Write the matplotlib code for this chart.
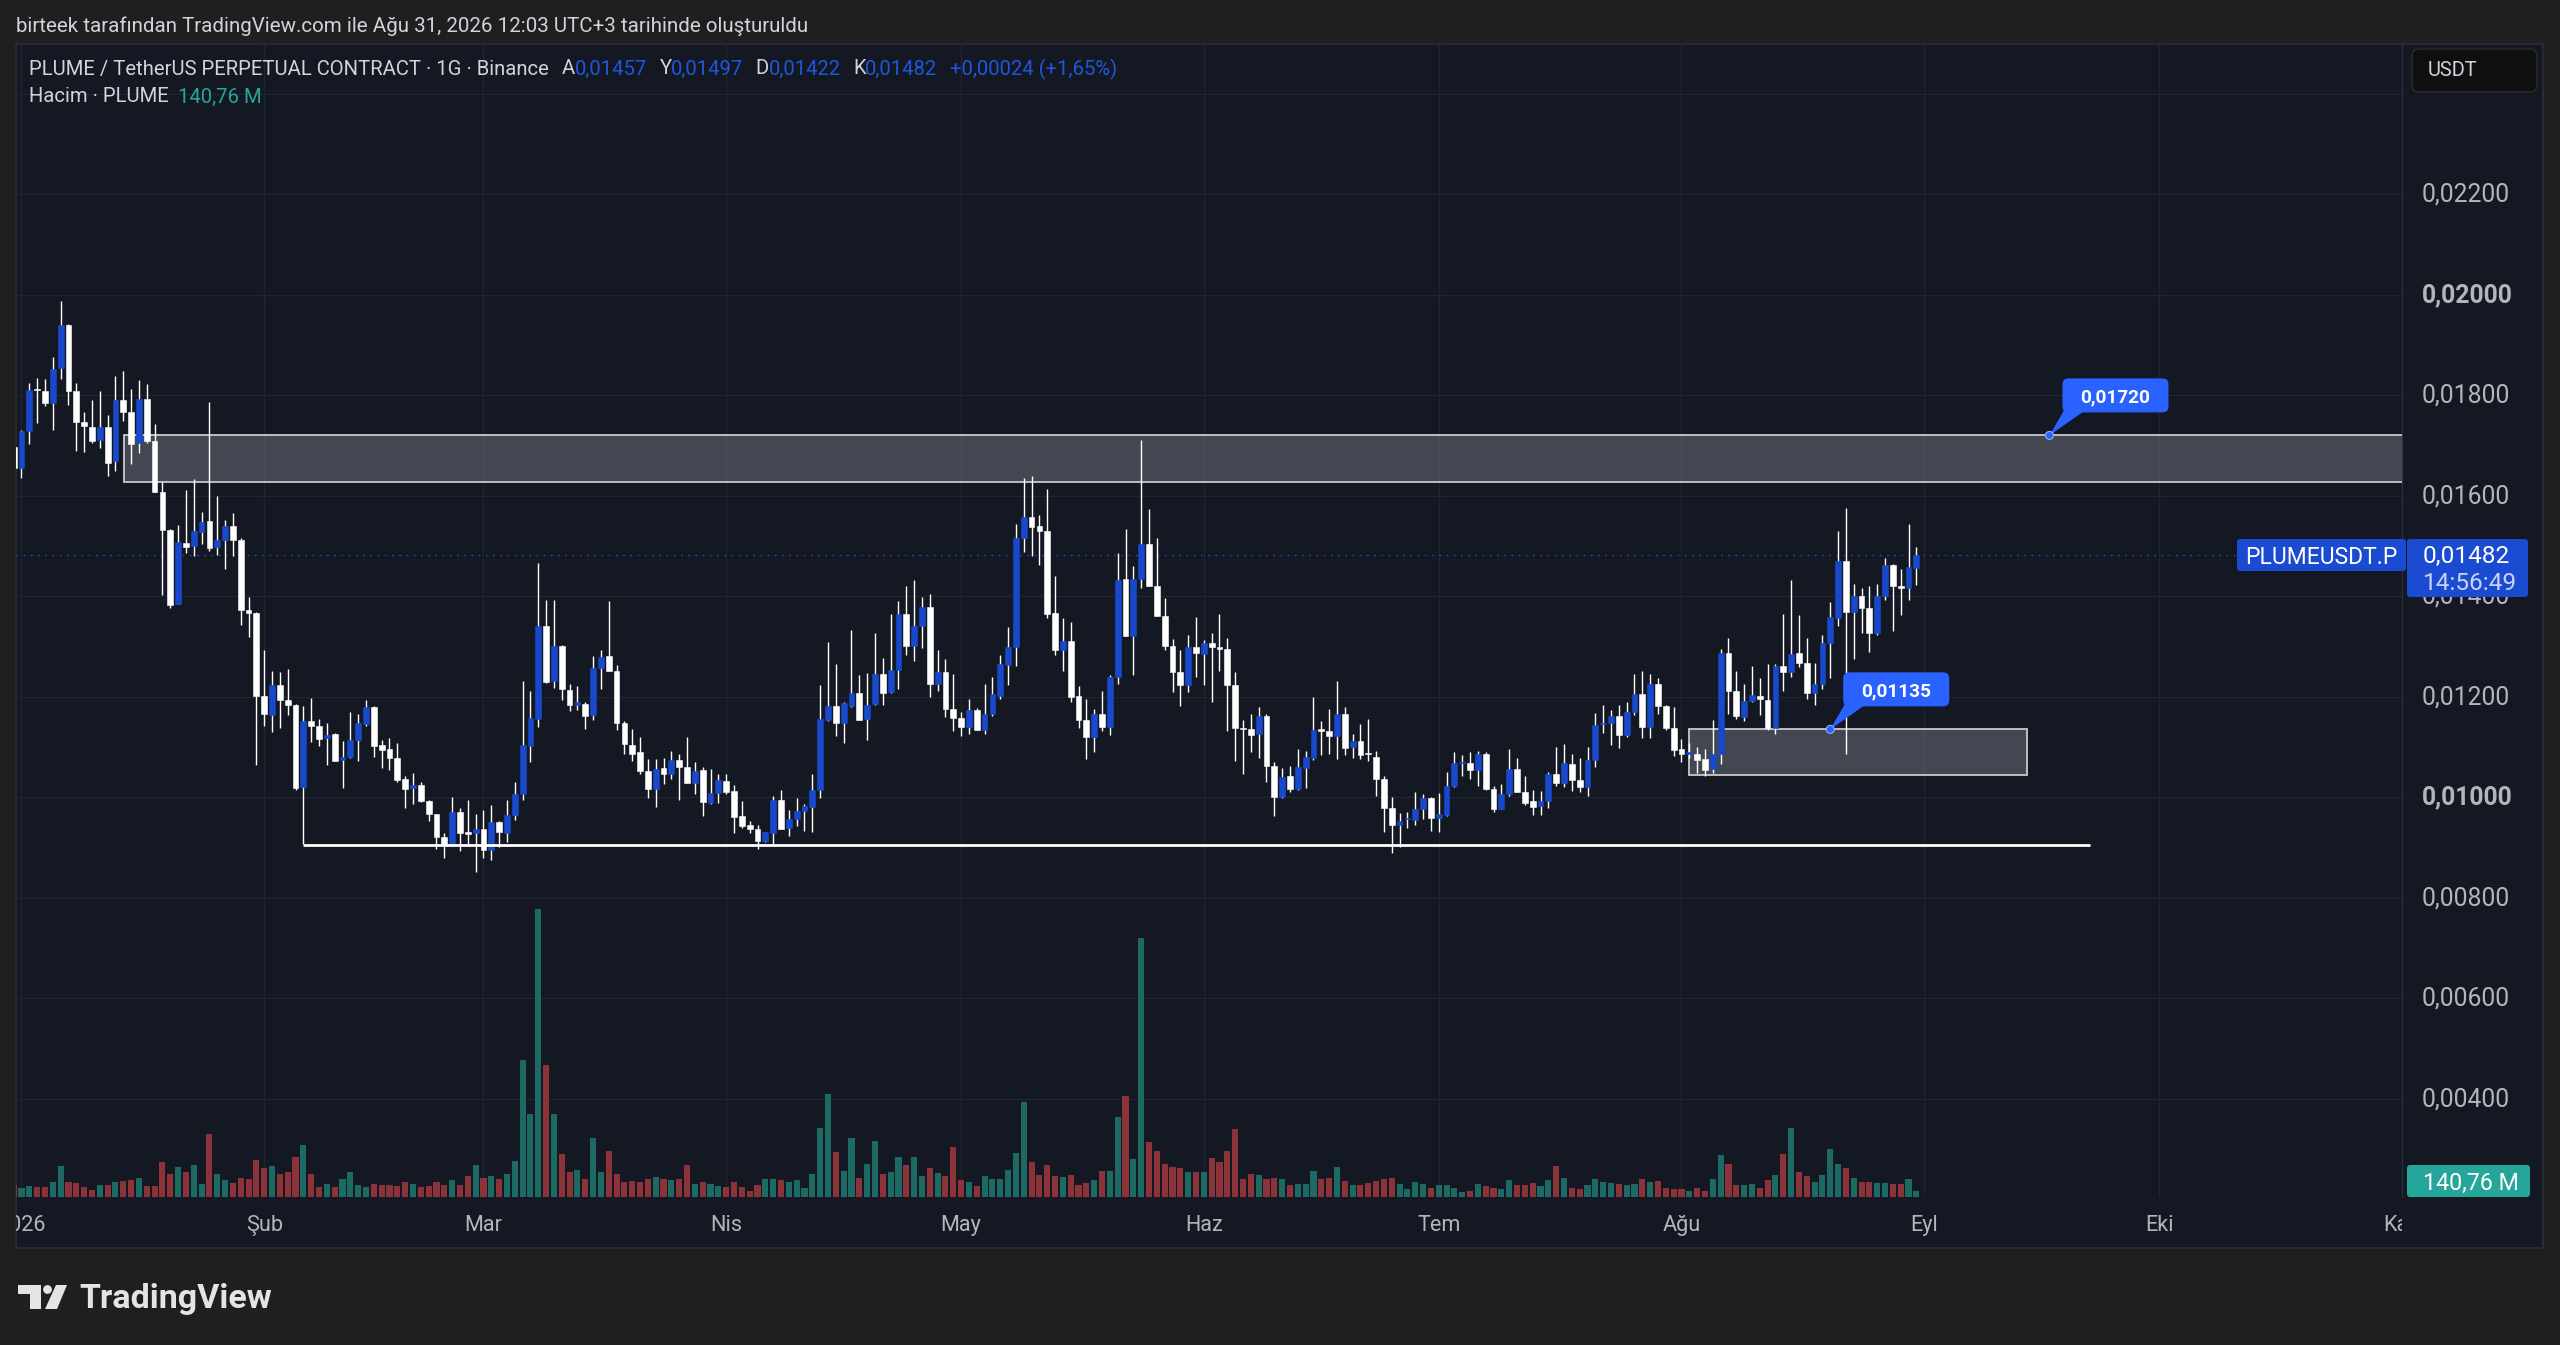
import numpy as np
import pandas as pd
import matplotlib
matplotlib.use("Agg")
import matplotlib.pyplot as plt
from matplotlib.patches import Rectangle, FancyBboxPatch, Polygon, Circle
from matplotlib.lines import Line2D
from matplotlib.transforms import IdentityTransform, Bbox

# ---------------------------------------------------------------- data
dates = pd.date_range("2025-12-31", "2026-08-31", freq="D")

opens = [0.01697,
 0.01656, 0.01728, 0.01811, 0.01809, 0.01785, 0.01854, 0.01939, 0.01809, 0.01747, 0.01736,
 0.01711, 0.01736, 0.01669, 0.01791, 0.01767, 0.01704, 0.01792, 0.01708, 0.01608, 0.01531,
 0.01384, 0.01506, 0.01499, 0.01527, 0.01550, 0.01497, 0.01511, 0.01540, 0.01512, 0.01372,
 0.01366, 0.01202, 0.01163, 0.01224, 0.01194, 0.01183, 0.01020, 0.01152, 0.01142, 0.01118,
 0.01125, 0.01074, 0.01081, 0.01113, 0.01146, 0.01179, 0.01104, 0.01096, 0.01079, 0.01036,
 0.01019, 0.01024, 0.00993, 0.00966, 0.00920, 0.00907, 0.00971, 0.00931, 0.00929, 0.00936,
 0.00894, 0.00950, 0.00929, 0.00965, 0.01007, 0.01102, 0.01156, 0.01341, 0.01232, 0.01300,
 0.01214, 0.01183, 0.01186, 0.01163, 0.01258, 0.01281, 0.01252, 0.01147, 0.01104, 0.01089,
 0.01053, 0.01016, 0.01058, 0.01047, 0.01075, 0.01061, 0.01028, 0.01055, 0.00989, 0.01009,
 0.01033, 0.01013, 0.00962, 0.00944, 0.00936, 0.00912, 0.00929, 0.00995, 0.00938, 0.00956,
 0.00973, 0.00981, 0.01014, 0.01154, 0.01181, 0.01147, 0.01181, 0.01207, 0.01155, 0.01186,
 0.01245, 0.01209, 0.01253, 0.01365, 0.01301, 0.01341, 0.01379, 0.01226, 0.01250, 0.01176,
 0.01158, 0.01139, 0.01173, 0.01133, 0.01165, 0.01201, 0.01264, 0.01298, 0.01516, 0.01557,
 0.01539, 0.01530, 0.01366, 0.01293, 0.01310, 0.01202, 0.01154, 0.01119, 0.01165, 0.01139,
 0.01239, 0.01434, 0.01321, 0.01434, 0.01504, 0.01421, 0.01361, 0.01301, 0.01250, 0.01224,
 0.01298, 0.01285, 0.01306, 0.01299, 0.01294, 0.01224, 0.01138, 0.01135, 0.01125, 0.01162,
 0.01063, 0.01001, 0.01042, 0.01016, 0.01058, 0.01078, 0.01135, 0.01131, 0.01121, 0.01166,
 0.01099, 0.01111, 0.01086, 0.01081, 0.01037, 0.00979, 0.00944, 0.00957, 0.00955, 0.00976,
 0.00998, 0.00958, 0.00965, 0.01022, 0.01068, 0.01068, 0.01054, 0.01085, 0.01016, 0.00977,
 0.01006, 0.01057, 0.01011, 0.00992, 0.00983, 0.00993, 0.01046, 0.01029, 0.01067, 0.01034,
 0.01021, 0.01075, 0.01145, 0.01147, 0.01161, 0.01124, 0.01169, 0.01205, 0.01140, 0.01225,
 0.01181, 0.01137, 0.01095, 0.01086, 0.01086, 0.01077, 0.01056, 0.01086, 0.01287, 0.01211,
 0.01159, 0.01191, 0.01202, 0.01194, 0.01138, 0.01262, 0.01250, 0.01286, 0.01267, 0.01208,
 0.01225, 0.01306, 0.01357, 0.01471, 0.01369, 0.01400, 0.01376, 0.01326, 0.01400, 0.01463,
 0.01421, 0.01417, 0.01457]

highs = [0.01705,
 0.01731, 0.01824, 0.01834, 0.01833, 0.01876, 0.01987, 0.01942, 0.01824, 0.01766, 0.01790,
 0.01809, 0.01761, 0.01839, 0.01848, 0.01812, 0.01830, 0.01823, 0.01743, 0.01627, 0.01533,
 0.01541, 0.01611, 0.01634, 0.01568, 0.01786, 0.01600, 0.01552, 0.01565, 0.01516, 0.01399,
 0.01369, 0.01292, 0.01251, 0.01249, 0.01256, 0.01185, 0.01181, 0.01197, 0.01156, 0.01147,
 0.01128, 0.01112, 0.01169, 0.01165, 0.01193, 0.01181, 0.01113, 0.01117, 0.01107, 0.01042,
 0.01049, 0.01030, 0.00995, 0.00967, 0.00929, 0.01000, 0.00979, 0.00995, 0.00966, 0.00974,
 0.00984, 0.00953, 0.00994, 0.01031, 0.01232, 0.01211, 0.01466, 0.01393, 0.01392, 0.01302,
 0.01226, 0.01222, 0.01189, 0.01281, 0.01293, 0.01391, 0.01263, 0.01152, 0.01135, 0.01120,
 0.01077, 0.01077, 0.01078, 0.01091, 0.01086, 0.01120, 0.01071, 0.01060, 0.01057, 0.01046,
 0.01046, 0.01024, 0.00993, 0.00952, 0.00944, 0.00931, 0.01002, 0.01014, 0.00974, 0.00998,
 0.00987, 0.01046, 0.01224, 0.01309, 0.01266, 0.01189, 0.01333, 0.01243, 0.01247, 0.01327,
 0.01278, 0.01365, 0.01390, 0.01420, 0.01433, 0.01399, 0.01404, 0.01293, 0.01275, 0.01245,
 0.01169, 0.01196, 0.01177, 0.01225, 0.01239, 0.01282, 0.01338, 0.01544, 0.01635, 0.01639,
 0.01562, 0.01614, 0.01440, 0.01357, 0.01349, 0.01222, 0.01196, 0.01175, 0.01212, 0.01243,
 0.01485, 0.01533, 0.01461, 0.01711, 0.01574, 0.01516, 0.01396, 0.01315, 0.01293, 0.01322,
 0.01359, 0.01313, 0.01326, 0.01364, 0.01317, 0.01250, 0.01154, 0.01165, 0.01179, 0.01166,
 0.01070, 0.01058, 0.01062, 0.01095, 0.01092, 0.01200, 0.01152, 0.01175, 0.01231, 0.01180,
 0.01125, 0.01146, 0.01156, 0.01091, 0.01043, 0.01000, 0.00968, 0.00970, 0.01010, 0.01007,
 0.01000, 0.01008, 0.01051, 0.01090, 0.01083, 0.01090, 0.01092, 0.01089, 0.01023, 0.01027,
 0.01095, 0.01079, 0.01043, 0.01015, 0.01013, 0.01050, 0.01099, 0.01106, 0.01086, 0.01078,
 0.01099, 0.01167, 0.01183, 0.01173, 0.01184, 0.01189, 0.01245, 0.01251, 0.01246, 0.01238,
 0.01183, 0.01179, 0.01116, 0.01107, 0.01099, 0.01095, 0.01154, 0.01294, 0.01317, 0.01252,
 0.01225, 0.01261, 0.01238, 0.01265, 0.01265, 0.01365, 0.01433, 0.01362, 0.01316, 0.01267,
 0.01323, 0.01389, 0.01529, 0.01576, 0.01424, 0.01417, 0.01420, 0.01425, 0.01476, 0.01465,
 0.01454, 0.01544, 0.01497]

lows = [0.01650,
 0.01636, 0.01703, 0.01745, 0.01778, 0.01730, 0.01833, 0.01781, 0.01689, 0.01687, 0.01704,
 0.01694, 0.01639, 0.01649, 0.01749, 0.01663, 0.01685, 0.01704, 0.01608, 0.01403, 0.01376,
 0.01384, 0.01485, 0.01480, 0.01504, 0.01490, 0.01482, 0.01455, 0.01481, 0.01343, 0.01319,
 0.01065, 0.01141, 0.01130, 0.01137, 0.01163, 0.01014, 0.00907, 0.01109, 0.01102, 0.01065,
 0.01072, 0.01018, 0.01078, 0.01072, 0.01142, 0.01081, 0.01058, 0.01054, 0.01031, 0.00979,
 0.00987, 0.00991, 0.00953, 0.00896, 0.00879, 0.00907, 0.00892, 0.00905, 0.00852, 0.00880,
 0.00876, 0.00900, 0.00910, 0.00955, 0.00994, 0.01070, 0.01139, 0.01228, 0.01217, 0.01193,
 0.01172, 0.01174, 0.01135, 0.01153, 0.01215, 0.01251, 0.01133, 0.01085, 0.01072, 0.01046,
 0.00998, 0.00981, 0.01026, 0.01037, 0.00994, 0.01028, 0.01006, 0.00963, 0.00986, 0.00989,
 0.01006, 0.00928, 0.00939, 0.00929, 0.00897, 0.00910, 0.00907, 0.00936, 0.00923, 0.00943,
 0.00932, 0.00930, 0.00998, 0.01152, 0.01121, 0.01107, 0.01179, 0.01153, 0.01113, 0.01184,
 0.01184, 0.01208, 0.01216, 0.01282, 0.01272, 0.01296, 0.01200, 0.01212, 0.01159, 0.01132,
 0.01121, 0.01126, 0.01133, 0.01126, 0.01161, 0.01196, 0.01224, 0.01261, 0.01488, 0.01481,
 0.01462, 0.01357, 0.01282, 0.01251, 0.01189, 0.01138, 0.01077, 0.01089, 0.01131, 0.01124,
 0.01226, 0.01321, 0.01243, 0.01417, 0.01421, 0.01361, 0.01293, 0.01209, 0.01182, 0.01209,
 0.01240, 0.01223, 0.01189, 0.01251, 0.01131, 0.01072, 0.01046, 0.01089, 0.01078, 0.01031,
 0.00962, 0.00999, 0.01011, 0.01014, 0.01019, 0.01075, 0.01083, 0.01086, 0.01077, 0.01083,
 0.01078, 0.01077, 0.01072, 0.01002, 0.00931, 0.00889, 0.00901, 0.00938, 0.00944, 0.00957,
 0.00933, 0.00930, 0.00963, 0.01020, 0.01042, 0.01037, 0.01023, 0.01014, 0.00971, 0.00976,
 0.01002, 0.01011, 0.00985, 0.00964, 0.00964, 0.00978, 0.01022, 0.01021, 0.01012, 0.01011,
 0.01002, 0.01061, 0.01128, 0.01104, 0.01097, 0.01119, 0.01163, 0.01117, 0.01117, 0.01166,
 0.01134, 0.01082, 0.01070, 0.01078, 0.01049, 0.01042, 0.01049, 0.01067, 0.01166, 0.01156,
 0.01152, 0.01189, 0.01163, 0.01133, 0.01125, 0.01212, 0.01240, 0.01259, 0.01195, 0.01184,
 0.01215, 0.01238, 0.01340, 0.01086, 0.01275, 0.01326, 0.01288, 0.01322, 0.01393, 0.01331,
 0.01363, 0.01393, 0.01422]

closes = [0.01656,
 0.01729, 0.01811, 0.01810, 0.01785, 0.01853, 0.01939, 0.01809, 0.01746, 0.01738, 0.01709,
 0.01736, 0.01666, 0.01791, 0.01767, 0.01703, 0.01792, 0.01708, 0.01608, 0.01531, 0.01382,
 0.01508, 0.01497, 0.01530, 0.01548, 0.01495, 0.01512, 0.01540, 0.01511, 0.01372, 0.01366,
 0.01202, 0.01165, 0.01224, 0.01194, 0.01183, 0.01019, 0.01151, 0.01142, 0.01116, 0.01123,
 0.01072, 0.01081, 0.01113, 0.01147, 0.01180, 0.01102, 0.01093, 0.01078, 0.01035, 0.01016,
 0.01024, 0.00993, 0.00966, 0.00920, 0.00907, 0.00970, 0.00929, 0.00927, 0.00936, 0.00894,
 0.00950, 0.00930, 0.00965, 0.01007, 0.01103, 0.01158, 0.01341, 0.01230, 0.01300, 0.01215,
 0.01183, 0.01189, 0.01162, 0.01258, 0.01279, 0.01252, 0.01148, 0.01105, 0.01086, 0.01053,
 0.01016, 0.01056, 0.01047, 0.01075, 0.01060, 0.01028, 0.01053, 0.00991, 0.01009, 0.01035,
 0.01011, 0.00960, 0.00943, 0.00936, 0.00912, 0.00931, 0.00995, 0.00937, 0.00956, 0.00973,
 0.00983, 0.01014, 0.01156, 0.01181, 0.01147, 0.01187, 0.01207, 0.01154, 0.01184, 0.01245,
 0.01208, 0.01253, 0.01365, 0.01301, 0.01341, 0.01379, 0.01226, 0.01250, 0.01176, 0.01158,
 0.01139, 0.01173, 0.01134, 0.01165, 0.01205, 0.01266, 0.01298, 0.01516, 0.01557, 0.01538,
 0.01530, 0.01364, 0.01292, 0.01310, 0.01200, 0.01153, 0.01119, 0.01165, 0.01139, 0.01239,
 0.01433, 0.01321, 0.01434, 0.01504, 0.01421, 0.01361, 0.01301, 0.01250, 0.01224, 0.01298,
 0.01286, 0.01306, 0.01299, 0.01294, 0.01223, 0.01137, 0.01135, 0.01124, 0.01162, 0.01063,
 0.01001, 0.01041, 0.01016, 0.01061, 0.01081, 0.01133, 0.01132, 0.01121, 0.01166, 0.01098,
 0.01111, 0.01084, 0.01085, 0.01036, 0.00978, 0.00944, 0.00953, 0.00959, 0.00976, 0.00998,
 0.00958, 0.00966, 0.01022, 0.01068, 0.01071, 0.01054, 0.01085, 0.01016, 0.00977, 0.01007,
 0.01057, 0.01011, 0.00989, 0.00981, 0.00993, 0.01046, 0.01029, 0.01068, 0.01034, 0.01021,
 0.01075, 0.01144, 0.01147, 0.01161, 0.01124, 0.01169, 0.01205, 0.01140, 0.01225, 0.01181,
 0.01137, 0.01093, 0.01085, 0.01090, 0.01075, 0.01055, 0.01086, 0.01287, 0.01212, 0.01161,
 0.01191, 0.01203, 0.01195, 0.01138, 0.01262, 0.01250, 0.01284, 0.01267, 0.01208, 0.01225,
 0.01306, 0.01358, 0.01471, 0.01369, 0.01400, 0.01376, 0.01326, 0.01400, 0.01463, 0.01420,
 0.01417, 0.01458, 0.01482]

# volume in millions of PLUME
volume_m = [280,
 210, 266, 238, 238, 350, 742, 350, 336, 238, 168,
 294, 294, 350, 378, 406, 448, 266, 266, 826, 546,
 714, 602, 770, 322, 1498, 546, 406, 336, 448, 420,
 882, 700, 742, 546, 588, 966, 1232, 546, 238, 308,
 238, 434, 588, 280, 238, 308, 280, 294, 266, 350,
 308, 238, 266, 350, 280, 406, 294, 490, 756, 448,
 490, 420, 560, 854, 3262, 1974, 6860, 3150, 1974, 1022,
 588, 644, 420, 1400, 588, 1092, 546, 350, 378, 350,
 420, 476, 420, 406, 434, 770, 322, 350, 308, 266,
 238, 350, 238, 154, 280, 420, 420, 406, 350, 406,
 224, 546, 1652, 2450, 1078, 630, 1400, 448, 784, 1330,
 560, 588, 966, 756, 966, 490, 686, 574, 490, 1204,
 406, 350, 266, 490, 420, 420, 644, 1050, 2268, 826,
 518, 756, 490, 476, 518, 294, 336, 406, 616, 616,
 1918, 2408, 910, 6188, 1316, 1092, 784, 714, 700, 602,
 602, 588, 924, 826, 1092, 1624, 434, 560, 518, 420,
 448, 420, 280, 322, 308, 630, 420, 448, 714, 378,
 294, 280, 336, 378, 420, 448, 308, 196, 364, 308,
 224, 280, 280, 224, 126, 154, 308, 252, 210, 196,
 406, 294, 294, 336, 252, 406, 742, 448, 210, 196,
 280, 434, 350, 336, 322, 280, 308, 420, 350, 392,
 224, 196, 196, 154, 210, 154, 420, 994, 798, 280,
 294, 322, 224, 406, 532, 1036, 1638, 588, 490, 350,
 532, 1134, 798, 700, 462, 350, 350, 336, 336, 322,
 308, 420, 140.76]

price_ticks = [0.004, 0.006, 0.008, 0.010, 0.012, 0.014, 0.016, 0.018, 0.020, 0.022]
bold_ticks = [0.010, 0.020]
grid_prices = [0.004, 0.006, 0.008, 0.010, 0.012, 0.014, 0.016, 0.018, 0.020, 0.022, 0.024]
month_labels = ["2026", "Şub", "Mar", "Nis", "May", "Haz", "Tem", "Ağu", "Eyl", "Eki", "Kas"]
month_starts = pd.date_range("2026-01-01", "2026-11-01", freq="MS")

# drawings (price levels, positions in days since 2026-01-01)
zone_hi_lo = (0.01720, 0.01628)
zone_hi_start = 13.1
zone_lo_lo, zone_lo_hi = 0.01045, 0.01135
zone_lo_x = (213.0, 256.1)
support_level = 0.00905
support_x = (36.0, 264.2)
note_hi = (259.0, 0.01720)
note_lo = (231.0, 0.01135)

# ---------------------------------------------------------------- style
W, H = 2560, 1345
BG_OUT = "#1f1f1f"
BG = "#141822"
GRID = "#212531"
BORDER = "#2a2e39"
TXT = "#b2b5be"
LIGHT = "#d1d4dc"
BLUE_C = "#1848cc"
BLUE_L = "#2155dc"
BLUE_TAG = "#1b4bd1"
BUBBLE = "#2962ff"
TEAL_V = "#1d6a64"
RED_V = "#8b3338"
TEAL_T = "#26a69a"

plt.rcParams["font.family"] = ["Roboto", "DejaVu Sans"]
fig = plt.figure(figsize=(W / 100, H / 100), dpi=100, facecolor=BG_OUT)
ID = IdentityTransform()

PL, PT, PR, PB = 16, 44, 2543, 1248   # panel
XR, YB = 2402, 1197                   # plot right / bottom
XMIN, XMAX = -0.70, 304.02
YMIN, YMAX = 0.002044, 0.024989
VMAX = 27510


def frect(x0, y0, x1, y1):
    return [x0 / W, 1 - y1 / H, (x1 - x0) / W, (y1 - y0) / H]


fig.add_artist(Rectangle((PL, H - PB), PR - PL, PB - PT, transform=ID,
                         fc=BG, ec=BORDER, lw=1.2, zorder=-10))
fig.add_artist(Line2D([XR, XR], [H - PT, H - YB], transform=ID, color=BORDER, lw=1.0, zorder=-9))

axg = fig.add_axes(frect(PL, PT, XR, YB), label="grid")
axv = fig.add_axes(frect(PL, PT, XR, YB), label="vol")
ax = fig.add_axes(frect(PL, PT, XR, YB), label="price")
axt = fig.add_axes(frect(PL, YB + 3, XR, PB + 3), label="time")
for a in (axg, axv, ax, axt):
    a.set_facecolor("none")
    a.axis("off")
    a.set_xlim(XMIN, XMAX)
axg.set_ylim(YMIN, YMAX)
ax.set_ylim(YMIN, YMAX)
axv.set_ylim(0, VMAX)
axt.set_ylim(0, 1)

x = np.array((dates - pd.Timestamp("2026-01-01")).days, dtype=float)
o, h, l, c = map(np.array, (opens, highs, lows, closes))
v = np.array(volume_m, dtype=float)
up = c >= o
mx = np.array((month_starts - pd.Timestamp("2026-01-01")).days, dtype=float)

# grid
for p in grid_prices:
    axg.axhline(p, color=GRID, lw=0.9, zorder=0)
for m in mx:
    axg.axvline(m, color=GRID, lw=0.9, zorder=0)

# volume
axv.bar(x, v, width=0.78, color=np.where(up, TEAL_V, RED_V), lw=0, zorder=2)

# zones and support
zone_fc = (0.48, 0.49, 0.53, 0.47)
ax.add_patch(Rectangle((zone_hi_start, zone_hi_lo[1]), XMAX + 5 - zone_hi_start,
                       zone_hi_lo[0] - zone_hi_lo[1], fc=zone_fc,
                       ec="#c8c9cc", lw=1.3, zorder=1))
ax.add_patch(Rectangle((zone_lo_x[0], zone_lo_lo), zone_lo_x[1] - zone_lo_x[0],
                       zone_lo_hi - zone_lo_lo, fc=zone_fc,
                       ec="#c8c9cc", lw=1.3, zorder=1))

# candles
ax.vlines(x, l, h, colors="#ffffff", lw=1.0, zorder=3)
body_bot = np.minimum(o, c)
body_h = np.maximum(np.abs(c - o), 0.000022)
ccol = np.where(up, BLUE_C, "#ffffff")
ax.bar(x, body_h, width=0.74, bottom=body_bot, color=ccol, edgecolor=ccol, lw=0.4, zorder=4)

ax.plot(list(support_x), [support_level, support_level], color="#ffffff", lw=2.0,
        solid_capstyle="butt", zorder=5)

# last-price dotted line
TAG_L = 2237
ax.axhline(c[-1], xmin=0, xmax=(TAG_L - PL) / (XR - PL), color=BLUE_TAG, lw=1.0,
           ls=(0, (1.2, 4)), zorder=2)

r = fig.canvas.get_renderer()


def fit(t, w):
    bb = t.get_window_extent(renderer=r)
    t.set_fontsize(t.get_fontsize() * w / bb.width)
    return t.get_fontsize()


def ptext(px, ytop, s, **kw):
    return fig.text(px, H - ytop, s, transform=ID, **kw)


def fmt(val):
    return f"{val:.5f}".replace(".", ",")


# time axis labels
tl = []
for m, lab in zip(mx, month_labels):
    t = axt.text(m, 0.5, lab, ha="center", va="center", color=TXT, fontsize=15.5, clip_on=True)
    t.set_clip_box(Bbox.from_extents(PL, 0, XR, H - YB))
    tl.append(t)
fs_time = fit(tl[2], 38)
for t in tl:
    t.set_fontsize(fs_time)

# last price tag geometry
yc = ax.transData.transform((0, c[-1]))[1]
tag_bottom = yc - 42

# price axis labels (the one under the tag is only partly visible, as in the original)
pl = []
for p in price_ticks:
    yd = ax.transData.transform((0, p))[1] + 2
    bold = any(np.isclose(p, b) for b in bold_ticks)
    t = fig.text(2421.7, yd, fmt(p), transform=ID, color=TXT, fontsize=17,
                 fontweight="bold" if bold else "normal", va="center_baseline", ha="left", zorder=3)
    if abs(yd - yc) < 50:
        t.set_clip_box(Bbox.from_extents(XR, 0, PR, tag_bottom))
        t.set_clip_on(True)
    pl.append(t)
fs_price = fit(pl[-1], 89)
for t in pl:
    t.set_fontsize(fs_price)

fig.add_artist(FancyBboxPatch((2407, tag_bottom), 121, 58, boxstyle="round,pad=0,rounding_size=3",
                              transform=ID, fc=BLUE_TAG, ec="none", zorder=6))
fig.add_artist(FancyBboxPatch((TAG_L, yc - 16), 2406 - TAG_L, 32, boxstyle="round,pad=0,rounding_size=3",
                              transform=ID, fc=BLUE_TAG, ec="none", zorder=6))
t = fig.text(2422.7, yc + 1, fmt(c[-1]), transform=ID, color="#ffffff", fontsize=fs_price,
             va="center_baseline", ha="left", zorder=7)
fit(t, 87)
t = fig.text(2422.7, yc - 26, "14:56:49", transform=ID, color="#c9d3f5", fontsize=fs_price,
             va="center_baseline", ha="left", zorder=7)
fit(t, 94)
t = fig.text((TAG_L + 2406) / 2, yc, "PLUMEUSDT.P", transform=ID, color="#ffffff", fontsize=fs_price,
             va="center_baseline", ha="center", zorder=7)
fit(t, 152)

# volume tag
vy = axv.transData.transform((0, v[-1]))[1]
vyc = max(vy, (H - YB) + 16)
fig.add_artist(FancyBboxPatch((2407, vyc - 16), 123, 32, boxstyle="round,pad=0,rounding_size=3",
                              transform=ID, fc=TEAL_T, ec="none", zorder=6))
vol_txt = f"{v[-1]:.2f}".replace(".", ",") + " M"
t = fig.text(2422.7, vyc, vol_txt, transform=ID, color="#ffffff", fontsize=fs_price,
             va="center_baseline", ha="left", zorder=7)
fit(t, 96)

# USDT button
fig.add_artist(FancyBboxPatch((2412, H - 92), 125, 43, boxstyle="round,pad=0,rounding_size=7",
                              transform=ID, fc="#0f0f0f", ec="#2c2c2c", lw=1.0, zorder=6))
t = ptext(2428, 71, "USDT", color=LIGHT, fontsize=16, va="center", ha="left", zorder=7)
fit(t, 50)


# bubbles
def bubble(xd, yd, s):
    axp, ayp = ax.transData.transform((xd, yd))
    bx0, by0, bw, bh = axp + 13, ayp + 23, 106, 34
    fig.add_artist(Polygon([(axp, ayp), (bx0 + 2, by0 + 3), (bx0 + 24, by0 + 3)], closed=True,
                           transform=ID, fc=BUBBLE, ec="none", zorder=6))
    fig.add_artist(FancyBboxPatch((bx0, by0), bw, bh, boxstyle="round,pad=0,rounding_size=6",
                                  transform=ID, fc=BUBBLE, ec="none", zorder=6))
    fig.add_artist(Circle((axp, ayp), 4, transform=ID, fc=BUBBLE, ec="#8fb0ff", lw=0.8, zorder=7))
    tt = fig.text(bx0 + bw / 2, by0 + bh / 2, s, transform=ID, color="#ffffff", fontsize=13,
                  fontweight="bold", va="center_baseline", ha="center", zorder=8)
    fit(tt, 70)


bubble(note_hi[0], note_hi[1], fmt(note_hi[1]))
bubble(note_lo[0], note_lo[1], fmt(note_lo[1]))

# header
t = ptext(16, 26.5, "birteek tarafından TradingView.com ile Ağu 31, 2026 12:03 UTC+3 tarihinde oluşturuldu",
          color=LIGHT, fontsize=12, va="center", ha="left")
fit(t, 791)

# legend
t0 = ptext(29, 69, "PLUME / TetherUS PERPETUAL CONTRACT · 1G · Binance", color=LIGHT,
           fontsize=12, va="center", ha="left")
fs_leg = fit(t0, 520)
chg = c[-1] - c[-2]
pct = chg / c[-2] * 100
chg_txt = (f"{chg:+.5f}" + f" ({pct:+.2f}%)").replace(".", ",")
pieces = [(562, "A", LIGHT), (575, fmt(o[-1]), BLUE_L), (659.5, "Y", LIGHT), (671, fmt(h[-1]), BLUE_L),
          (755, "D", LIGHT), (769, fmt(l[-1]), BLUE_L), (853, "K", LIGHT), (865, fmt(c[-1]), BLUE_L),
          (949.5, chg_txt, BLUE_L)]
for px, s, col in pieces:
    ptext(px, 69, s, color=col, fontsize=fs_leg, va="center", ha="left")
ptext(29, 97, "Hacim · PLUME", color=LIGHT, fontsize=fs_leg, va="center", ha="left")
ptext(178, 97, vol_txt, color=TEAL_T, fontsize=fs_leg, va="center", ha="left")

# TradingView logo
LOGO = "#e4e4e4"
fig.add_artist(Polygon([(18, H - 1285), (41, H - 1285), (41, H - 1309), (30, H - 1309),
                        (30, H - 1294), (18, H - 1294)], closed=True, transform=ID, fc=LOGO, ec="none"))
fig.add_artist(Circle((47.5, H - 1289.5), 4.4, transform=ID, fc=LOGO, ec="none"))
fig.add_artist(Polygon([(56, H - 1285), (67, H - 1285), (57, H - 1309), (45, H - 1309)],
                       closed=True, transform=ID, fc=LOGO, ec="none"))
t = ptext(79, 1299, "TradingView", color=LOGO, fontsize=22, fontweight="bold", va="center", ha="left")
fit(t, 193)

fig.savefig("out.png", dpi=100, facecolor=BG_OUT)
